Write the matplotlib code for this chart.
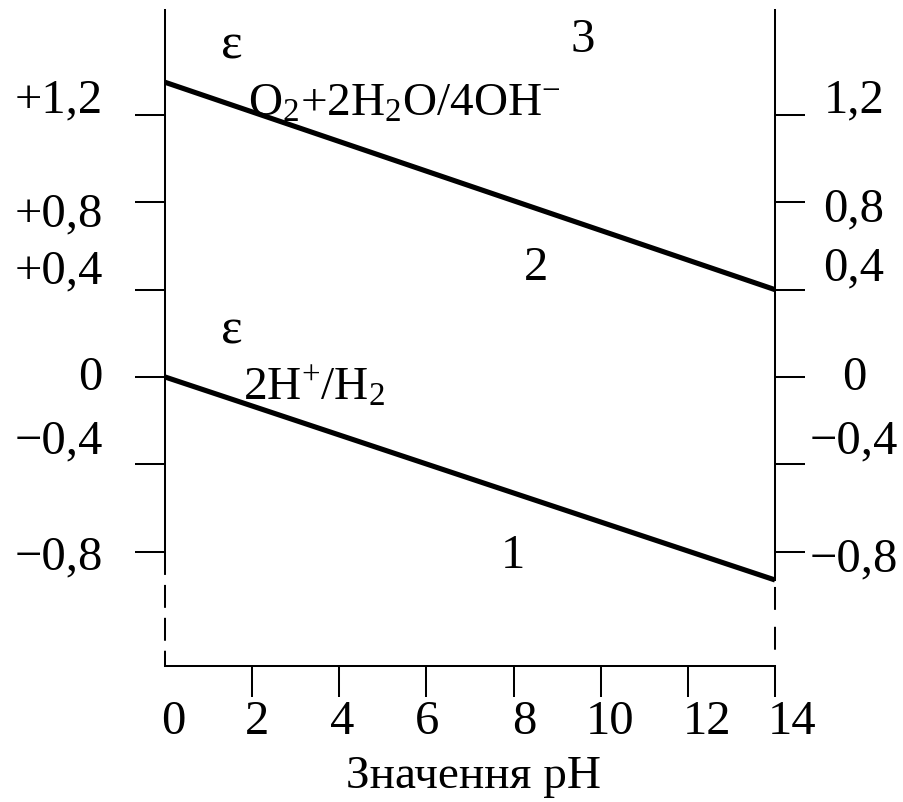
import matplotlib
matplotlib.use("Agg")
import matplotlib.pyplot as plt

# ---- data ----
ph = [0, 14]
e_oxygen = [1.35, 0.40]      # O2+2H2O/4OH- line
e_hydrogen = [0.0, -0.93]    # 2H+/H2 line

x_ticks = [2, 4, 6, 8, 10, 12, 14]
x_tick_labels = ["0", "2", "4", "6", "8", "10", "12", "14"]
y_ticks = [1.2, 0.8, 0.4, 0.0, -0.4, -0.8]
y_left_labels = ["+1,2", "+0,8", "+0,4", "0", "\u22120,4", "\u22120,8"]
y_right_labels = ["1,2", "0,8", "0,4", "0", "\u22120,4", "\u22120,8"]

# ---- layout (label placement) ----
xlab_pos = [0.18, 2.11, 4.06, 6.02, 8.24, 10.21, 12.44, 14.39]
ylab_left_pos = [1.27, 0.75, 0.49, 0.0, -0.29, -0.82]
ylab_right_pos = [1.27, 0.77, 0.50, 0.0, -0.29, -0.83]
YMIN, YMAX = -1.324, 1.681

plt.rcParams['font.family'] = ['Liberation Serif', 'DejaVu Serif']
plt.rcParams['mathtext.fontset'] = 'custom'
plt.rcParams['mathtext.rm'] = 'Liberation Serif'
plt.rcParams['mathtext.it'] = 'Liberation Serif:italic'
plt.rcParams['lines.scale_dashes'] = False

fig = plt.figure(figsize=(9.04, 8.03), dpi=100)
ax = fig.add_axes([165/904, 1 - 667/803, 610/904, 656/803])
ax.set_xlim(0, 14)
ax.set_ylim(YMIN, YMAX)

alw = 1.45
ax.spines['top'].set_visible(False)
for s in ['left', 'right', 'bottom']:
    ax.spines[s].set_linewidth(alw)
ax.spines['left'].set_bounds(y_ticks[-1], YMAX)
ax.spines['right'].set_bounds(e_hydrogen[-1], YMAX)

# dashed lower parts of vertical axes
ax.plot([0, 0], [y_ticks[-1], YMIN], color='black', lw=alw,
        dashes=(16.5, 7.2), clip_on=False, solid_capstyle='butt')
ax.plot([14, 14], [e_hydrogen[-1], YMIN], color='black', lw=alw,
        dashes=(0, 5, 16.5, 7.2), clip_on=False)

# ticks
ax.set_xticks(x_ticks)
ax.set_xticklabels([])
ax.set_yticks(y_ticks)
ax.set_yticklabels([])
ax.tick_params(axis='x', direction='out', length=22, width=alw)
ax.tick_params(axis='y', direction='out', length=21.5, width=alw,
               left=True, right=True)

# lines
ax.plot(ph, e_oxygen, color='black', lw=3.7, solid_capstyle='butt', clip_on=False)
ax.plot(ph, e_hydrogen, color='black', lw=3.7, solid_capstyle='butt', clip_on=False)

fs = 35
# tick labels
for xp, lab in zip(xlab_pos, x_tick_labels):
    ax.text(xp, (378 - 722) / 218.3, lab, ha='center', va='center', fontsize=fs)
ytr = ax.get_yaxis_transform()
for yp, lab in zip(ylab_left_pos, y_left_labels):
    ax.text((103 - 165) / 610, yp, lab, ha='right', va='center', fontsize=fs,
            transform=ytr)
for yp, lab in zip(ylab_right_pos, y_right_labels):
    ax.text((854 - 165) / 610, yp, lab, ha='center', va='center', fontsize=fs,
            transform=ytr)

# annotations
ax.text(1.54, 1.52, "\u03b5", ha='center', va='center', fontsize=37)
ax.text(9.59, 1.546, "3", ha='center', va='center', fontsize=fs)
ax.text(1.9, 1.20, r"$\mathrm{O_2{+}2H_2O/4OH^{-}}$", ha='left', va='baseline',
        fontsize=34)
ax.text(8.51, 0.505, "2", ha='center', va='center', fontsize=fs)
ax.text(1.54, 0.216, "\u03b5", ha='center', va='center', fontsize=37)
ax.text(1.8, -0.10, r"$\mathrm{2H^{+}/H_2}$", ha='left', va='baseline', fontsize=34)
ax.text(7.99, -0.817, "1", ha='center', va='center', fontsize=fs)

ax.text(7.09, (378 - 777) / 218.3, "Значення pH", ha='center', va='center',
        fontsize=34)

fig.savefig("out.png", dpi=100)
